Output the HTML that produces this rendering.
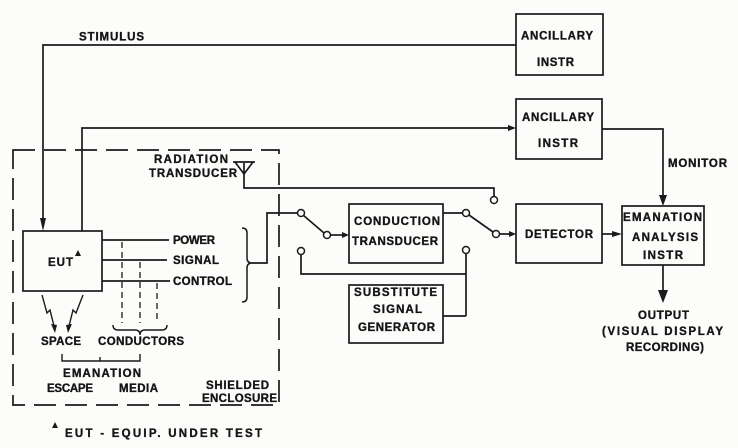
<!DOCTYPE html>
<html>
<head>
<meta charset="utf-8">
<style>
  html,body{margin:0;padding:0;background:#fcfcfa;}
  svg{display:block;}
  text{font-family:"Liberation Sans","DejaVu Sans",sans-serif;font-weight:bold;font-size:11.5px;fill:#151515;stroke:#151515;stroke-width:0.35px;}
</style>
</head>
<body>
<svg width="738" height="448" viewBox="0 0 738 448" xmlns="http://www.w3.org/2000/svg">
  <rect x="0" y="0" width="738" height="448" fill="#fcfcfa"/>
  <g fill="none" stroke="#1a1a1a" stroke-width="1.7">
    <!-- shielded enclosure (dashed) -->
    <rect x="13" y="150" width="266" height="255" stroke-dasharray="22 9"/>

    <!-- boxes -->
    <rect x="516" y="14" width="87" height="61"/>
    <rect x="516" y="99" width="86" height="60"/>
    <rect x="23" y="231" width="79" height="60"/>
    <rect x="349" y="204" width="94" height="59"/>
    <rect x="349" y="285" width="94" height="58"/>
    <rect x="516" y="204" width="86" height="59"/>
    <rect x="622" y="206" width="82" height="59"/>

    <!-- stimulus line -->
    <polyline points="516,45 43,45 43,222"/>
    <!-- EUT to ancillary 2 -->
    <polyline points="82,231 82,128 510,128"/>
    <!-- ancillary 2 to emanation (monitor) -->
    <polyline points="602,129 663,129 663,197"/>
    <!-- detector to emanation -->
    <line x1="602" y1="234" x2="615" y2="234"/>
    <!-- output -->
    <line x1="663" y1="265" x2="663" y2="292"/>

    <!-- EUT outputs -->
    <line x1="102" y1="240" x2="169" y2="240"/>
    <line x1="102" y1="260" x2="167" y2="260"/>
    <line x1="102" y1="281" x2="170" y2="281"/>
    <!-- dashed conductor lines -->
    <g stroke-dasharray="6 4" stroke-width="1.3">
      <line x1="122" y1="242" x2="122" y2="323"/>
      <line x1="140" y1="262" x2="140" y2="323"/>
      <line x1="157" y1="283" x2="157" y2="323"/>
    </g>
    <!-- brace under conductors -->
    <path d="M113,325 Q113,330 118,330 L135,330 Q140,330 140,335 Q140,330 145,330 L162,330 Q167,330 167,325" stroke-width="1.4"/>
    <!-- bracket emanation escape media -->
    <polyline points="62,354 62,361 140,361 140,354" stroke-width="1.4"/>
    <line x1="100" y1="361" x2="100" y2="357" stroke-width="1.4"/>

    <!-- zigzags -->
    <polyline points="42,295 47,313 50,310 54,326" stroke-width="1.4"/>
    <polyline points="83,295 76,313 73,310 69,326" stroke-width="1.4"/>

    <!-- right brace of power/signal/control -->
    <path d="M242,228 Q247,228 247,233 L247,258 Q247,263 252,263 Q247,263 247,268 L247,297 Q247,302 242,302" stroke-width="1.5"/>
    <polyline points="252,263 267,263 267,213 297,213"/>

    <!-- antenna -->
    <line x1="233" y1="162" x2="255" y2="162"/>
    <polyline points="235,162 244,174 253,162"/>
    <polyline points="244,163 244,188 494,188 494,197"/>

    <!-- switch 1 -->
    <line x1="303" y1="215" x2="324" y2="233"/>
    <line x1="330" y1="235" x2="343" y2="235"/>
    <polyline points="301,254 301,274 466,274"/>
    <!-- switch 2 -->
    <line x1="443" y1="213" x2="463" y2="213"/>
    <line x1="469" y1="215" x2="493" y2="232"/>
    <line x1="499" y1="234" x2="510" y2="234"/>
    <line x1="466" y1="253" x2="466" y2="316"/>
    <line x1="466" y1="316" x2="443" y2="316"/>
  </g>

  <!-- circles -->
  <g fill="#fcfcfa" stroke="#1a1a1a" stroke-width="1.5">
    <circle cx="301" cy="213" r="3.5"/>
    <circle cx="327" cy="235" r="3.5"/>
    <circle cx="301" cy="251" r="3.5"/>
    <circle cx="466" cy="213" r="3.5"/>
    <circle cx="496" cy="234" r="3.5"/>
    <circle cx="494" cy="200" r="3.5"/>
    <circle cx="466" cy="250" r="3.5"/>
  </g>

  <!-- arrowheads -->
  <g fill="#1a1a1a" stroke="none">
    <polygon points="40,218 46,218 43,231"/>
    <polygon points="508,125 508,131 516,128"/>
    <polygon points="659,195 667,195 663,206"/>
    <polygon points="612,231 612,237 622,234"/>
    <polygon points="658,290 668,290 663,303"/>
    <polygon points="342,232 342,238 349,235"/>
    <polygon points="509,231 509,237 516,234"/>
    <polygon points="51,324 57,325 55,333"/>
    <polygon points="66,325 72,324 68,333"/>
    <polygon points="75,256 78,250 81,256"/>
    <polygon points="52,428 55,422 58,428"/>
  </g>

  <!-- labels -->
  <text x="79" y="40.5" textLength="65">STIMULUS</text>
  <text x="521" y="39.5" textLength="72">ANCILLARY</text>
  <text x="537" y="66" textLength="37">INSTR</text>
  <text x="522" y="121" textLength="72">ANCILLARY</text>
  <text x="538" y="147" textLength="40">INSTR</text>
  <text x="668" y="167" textLength="59">MONITOR</text>
  <text x="154" y="163" textLength="74">RADIATION</text>
  <text x="149" y="177" textLength="88">TRANSDUCER</text>
  <text x="354" y="225" textLength="86">CONDUCTION</text>
  <text x="352" y="245" textLength="86">TRANSDUCER</text>
  <text x="525" y="238" textLength="68">DETECTOR</text>
  <text x="623" y="221" textLength="79">EMANATION</text>
  <text x="632" y="241" textLength="66">ANALYSIS</text>
  <text x="643" y="259" textLength="40">INSTR</text>
  <text x="354" y="296" textLength="83">SUBSTITUTE</text>
  <text x="373" y="313" textLength="49">SIGNAL</text>
  <text x="358" y="331" textLength="77">GENERATOR</text>
  <text x="638" y="319" textLength="51">OUTPUT</text>
  <text x="602" y="335" textLength="121">(VISUAL DISPLAY</text>
  <text x="626" y="351" textLength="78">RECORDING)</text>
  <text x="48" y="266" textLength="25">EUT</text>
  <text x="173" y="244" textLength="42">POWER</text>
  <text x="173" y="264" textLength="46">SIGNAL</text>
  <text x="173" y="285" textLength="59">CONTROL</text>
  <text x="41" y="345" textLength="40">SPACE</text>
  <text x="98" y="345" textLength="86">CONDUCTORS</text>
  <text x="63" y="377" textLength="78">EMANATION</text>
  <text x="47" y="392" textLength="46">ESCAPE</text>
  <text x="119" y="392" textLength="39">MEDIA</text>
  <text x="206" y="389" textLength="63">SHIELDED</text>
  <text x="202" y="402" textLength="75">ENCLOSURE</text>
  <text x="65" y="437" textLength="197">EUT - EQUIP. UNDER TEST</text>
</svg>
</body>
</html>
